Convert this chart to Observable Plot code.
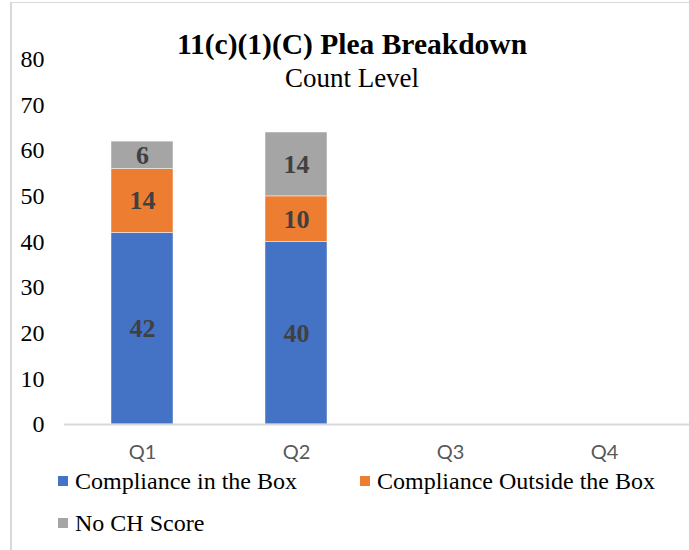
<!DOCTYPE html>
<html>
<head>
<meta charset="utf-8">
<script src="https://cdn.jsdelivr.net/npm/d3@7"></script>
<script src="https://cdn.jsdelivr.net/npm/@observablehq/plot@0.6"></script>
<style>
  html, body { margin: 0; padding: 0; background: #fff; }
  #wrap { position: relative; width: 689px; height: 550px; overflow: hidden; background: #fff; }
  #frame { position: absolute; left: 10px; top: 2px; width: 700px; height: 600px; border-top: 1px solid #d9d9d9; border-left: 2px solid #d9d9d9; }
  #chart { position: absolute; left: 0; top: 0; }
  .serif { font-family: "Liberation Serif", "Times New Roman", serif; color: #000; line-height: 1; }
  #title { position: absolute; left: 0; width: 704px; text-align: center; top: 30px; font-size: 29.5px; font-weight: bold; }
  #subtitle { position: absolute; left: 0; width: 704px; text-align: center; top: 64.5px; font-size: 27px; }
  .leg { position: absolute; font-size: 24px; white-space: nowrap; display: flex; align-items: center; }
  .sw { display: inline-block; width: 10px; height: 10px; margin-right: 7px; }
</style>
</head>
<body>
<div id="wrap">
  <div id="frame"></div>
  <div id="chart"></div>
  <div id="title" class="serif">11(c)(1)(C) Plea Breakdown</div>
  <div id="subtitle" class="serif">Count Level</div>
  <div id="legend"></div>
</div>
<script>
const quarters = ["Q1", "Q2", "Q3", "Q4"];
const seriesNames = ["Compliance in the Box", "Compliance Outside the Box", "No CH Score"];
const seriesColors = ["#4472C4", "#ED7D31", "#A5A5A5"];
const complianceInBox = [42, 40, null, null];
const complianceOutsideBox = [14, 10, null, null];
const noCHScore = [6, 14, null, null];
const yTicks = [0, 10, 20, 30, 40, 50, 60, 70, 80];

const seriesValues = [complianceInBox, complianceOutsideBox, noCHScore];
const rows = [];
quarters.forEach((q, i) => {
  seriesNames.forEach((s, j) => {
    const v = seriesValues[j][i];
    if (v != null) rows.push({quarter: q, series: s, value: v});
  });
});

const chart = Plot.plot({
  width: 689,
  height: 550,
  marginTop: 59,
  marginBottom: 126,
  marginLeft: 64,
  marginRight: 8,
  style: {background: "transparent", overflow: "visible"},
  x: {domain: quarters, paddingInner: 0.6, paddingOuter: 0.3, label: null},
  y: {domain: [0, 80], label: null},
  color: {domain: seriesNames, range: seriesColors},
  marks: [
    Plot.axisY({ticks: yTicks, tickSize: 0, tickPadding: 20, fontSize: 24, fill: "#000",
      fontFamily: "Liberation Serif, Times New Roman, serif", label: null}),
    Plot.axisX({tickSize: 0, tickPadding: 20, fontSize: 20, fill: "#595959",
      fontFamily: "Lato, Open Sans, sans-serif", label: null}),
    Plot.barY(rows, Plot.stackY({x: "quarter", y: "value", z: "series", fill: "series",
      stroke: "#ffffff", strokeWidth: 0.75, strokeOpacity: 0.6})),
    Plot.ruleY([0], {stroke: "#d9d9d9", strokeWidth: 2, insetRight: -8}),
    Plot.text(rows, Plot.stackY({x: "quarter", y: "value", z: "series", text: "value",
      fill: "#404040", fontSize: 26, fontWeight: "bold",
      fontFamily: "Liberation Serif, Times New Roman, serif"}))
  ]
});
document.getElementById("chart").appendChild(chart);

const legendPos = [[58, 469], [360, 469], [58, 511]];
const legend = document.getElementById("legend");
seriesNames.forEach((s, i) => {
  const d = document.createElement("div");
  d.className = "leg serif";
  d.style.left = legendPos[i][0] + "px";
  d.style.top = legendPos[i][1] + "px";
  const sw = document.createElement("span");
  sw.className = "sw";
  sw.style.background = seriesColors[i];
  d.appendChild(sw);
  d.appendChild(document.createTextNode(s));
  legend.appendChild(d);
});
</script>
</body>
</html>
